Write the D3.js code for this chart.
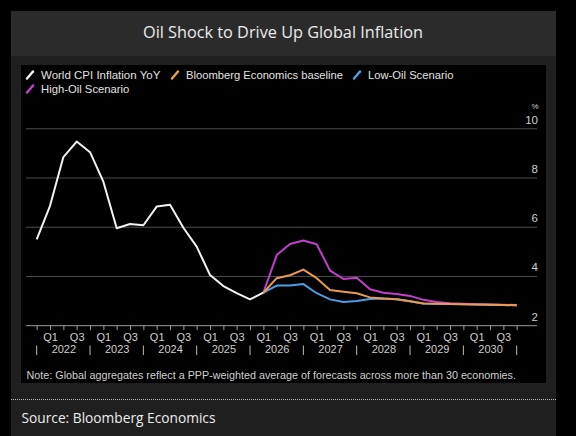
<!DOCTYPE html>
<html>
<head>
<meta charset="utf-8">
<script src="https://cdn.jsdelivr.net/npm/d3@7"></script>
<style>
  html, body { margin: 0; padding: 0; background: #000; }
  svg { display: block; }
</style>
</head>
<body>
<svg id="chart" width="576" height="436"></svg>
<script>
// ---- data (quarter index 0 = start of 2022) ----
const years = ["2022","2023","2024","2025","2026","2027","2028","2029","2030"];
const quarterLabels = ["Q1","Q3"];
const yTicks = [2, 4, 6, 8, 10];

const worldCPI = [5.49, 6.85, 8.83, 9.46, 9.03, 7.83, 5.94, 6.11, 6.06, 6.82, 6.89, 5.96, 5.19, 4.04, 3.59, 3.30, 3.05, 3.32];
const forecastStart = 17;
const highOil  = [3.32, 4.85, 5.30, 5.44, 5.29, 4.22, 3.88, 3.93, 3.46, 3.32, 3.27, 3.19, 3.03, 2.94, 2.89, 2.87, 2.85, 2.84, 2.83, 2.82];
const baseline = [3.32, 3.91, 4.03, 4.26, 3.91, 3.43, 3.36, 3.30, 3.13, 3.08, 3.05, 2.97, 2.88, 2.87, 2.86, 2.85, 2.84, 2.83, 2.82, 2.81];
const lowOil   = [3.32, 3.61, 3.61, 3.67, 3.30, 3.05, 2.94, 2.98, 3.06, 3.08, 3.05, 2.97, 2.88, 2.87, 2.86, 2.85, 2.84, 2.83, 2.82, 2.81];

const seriesNames = ["World CPI Inflation YoY", "Bloomberg Economics baseline", "Low-Oil Scenario", "High-Oil Scenario"];
const seriesColors = ["#f2f2f2", "#e89c4c", "#4a9fe6", "#c23fcc"];

const titleText = "Oil Shock to Drive Up Global Inflation";
const noteText = "Note: Global aggregates reflect a PPP-weighted average of forecasts across more than 30 economies.";
const sourceText = "Source: Bloomberg Economics";

// ---- layout ----
const svg = d3.select("#chart");
const FONT = "'Liberation Sans', Arial, sans-serif";

svg.append("rect").attr("width", 576).attr("height", 436).attr("fill", "#000");
svg.append("rect").attr("x", 11).attr("y", 11).attr("width", 545).attr("height", 425).attr("fill", "#1f1f1f");
svg.append("rect").attr("x", 11).attr("y", 11).attr("width", 545).attr("height", 45).attr("fill", "#2b2b2b");
svg.append("rect").attr("x", 21).attr("y", 65).attr("width", 525).attr("height", 318).attr("fill", "#000");

function fit(sel, w) {
  sel.each(function() {
    const len = this.getComputedTextLength();
    if (Math.abs(len - w) > 1) {
      d3.select(this).attr("textLength", w).attr("lengthAdjust", "spacingAndGlyphs");
    }
  });
}

// title
svg.append("text").attr("x", 143).attr("y", 33).attr("dy", "0.35em")
  .attr("fill", "#ececec").attr("font-family", "'Open Sans', sans-serif").attr("font-size", 15.5)
  .text(titleText).call(fit, 280);

// ---- scales ----
const x = d3.scaleLinear().domain([0, 36]).range([36.7, 516.7]);
const y = d3.scaleLinear().domain([2, 10]).range([325.2, 128.3]);

// gridlines + y labels
const yAxis = d3.axisRight(y).tickValues(yTicks).tickSize(-(537 - 26)).tickPadding(0);
const gy = svg.append("g").attr("transform", "translate(537,0)").call(yAxis);
gy.select(".domain").remove();
gy.selectAll(".tick line").attr("stroke", d => d === 2 ? "#9a9a9a" : "#4d4d4d").attr("stroke-width", 1);
gy.selectAll(".tick text").attr("x", 1).attr("dy", "-0.45em").attr("text-anchor", "end")
  .attr("fill", "#cfcfcf").attr("font-family", FONT).attr("font-size", 11.5);
svg.append("text").attr("x", 535).attr("y", 106).attr("text-anchor", "middle").attr("dy", "0.35em")
  .attr("fill", "#cfcfcf").attr("font-family", FONT).attr("font-size", 8).text("%");

// x axis: quarter ticks
const qAxis = d3.axisBottom(x).tickValues(d3.range(0, 37)).tickSize(5).tickPadding(3)
  .tickFormat(d => d % 4 === 1 ? quarterLabels[0] : (d % 4 === 3 ? quarterLabels[1] : ""));
const gx = svg.append("g").attr("transform", "translate(0,325.2)").call(qAxis);
gx.select(".domain").remove();
gx.selectAll(".tick line").attr("stroke", "#9a9a9a");
gx.selectAll(".tick text").attr("fill", "#cfcfcf").attr("font-family", FONT).attr("font-size", 11);

// year labels
const yearAxis = d3.axisBottom(x).tickValues(years.map((d, i) => i * 4 + 2)).tickSize(0).tickPadding(0)
  .tickFormat((d, i) => years[i]);
const gyear = svg.append("g").attr("transform", "translate(0,345)").call(yearAxis);
gyear.select(".domain").remove();
gyear.selectAll(".tick text").attr("fill", "#cfcfcf").attr("font-family", FONT).attr("font-size", 11);
// year separators
svg.append("g").selectAll("line").data(d3.range(0, 37, 4)).join("line")
  .attr("x1", d => x(d)).attr("x2", d => x(d)).attr("y1", 345.5).attr("y2", 355)
  .attr("stroke", "#bdbdbd").attr("stroke-width", 1);

// ---- lines ----
const line = d3.line().x(d => x(d.i)).y(d => y(d.v));
const toPts = (arr, off) => arr.map((v, k) => ({ i: k + off, v }));
const plot = [
  { data: toPts(lowOil, forecastStart), color: seriesColors[2] },
  { data: toPts(highOil, forecastStart), color: seriesColors[3] },
  { data: toPts(baseline, forecastStart), color: seriesColors[1] },
  { data: toPts(worldCPI, 0), color: seriesColors[0] }
];
svg.append("g").selectAll("path").data(plot).join("path")
  .attr("d", d => line(d.data)).attr("fill", "none")
  .attr("stroke", d => d.color).attr("stroke-width", 2).attr("stroke-linejoin", "round");

// ---- legend ----
const legendItems = [
  { name: seriesNames[0], color: seriesColors[0], x: 27, y: 75, w: 119.6 },
  { name: seriesNames[1], color: seriesColors[1], x: 172, y: 75, w: 157 },
  { name: seriesNames[2], color: seriesColors[2], x: 354, y: 75, w: 85.4 },
  { name: seriesNames[3], color: seriesColors[3], x: 27, y: 89, w: 88.4 }
];
const lg = svg.append("g").selectAll("g").data(legendItems).join("g")
  .attr("transform", d => `translate(${d.x},${d.y})`);
lg.append("line").attr("x1", 0).attr("y1", 3.5).attr("x2", 6).attr("y2", -3.5)
  .attr("stroke", d => d.color).attr("stroke-width", 2.5).attr("stroke-linecap", "round");
lg.append("text").attr("x", 14).attr("dy", "0.35em").attr("fill", "#e0e0e0")
  .attr("font-family", FONT).attr("font-size", 11.5).text(d => d.name)
  .each(function(d) { fit(d3.select(this), d.w); });

// note
svg.append("text").attr("x", 26.5).attr("y", 375).attr("dy", "0.35em")
  .attr("fill", "#cfcfcf").attr("font-family", FONT).attr("font-size", 10.5)
  .text(noteText).call(fit, 489.5);

// dotted separator
svg.append("line").attr("x1", 11).attr("x2", 556).attr("y1", 399.5).attr("y2", 399.5)
  .attr("stroke", "#bdbdbd").attr("stroke-width", 1).attr("stroke-dasharray", "1,1");

// source
svg.append("text").attr("x", 21.5).attr("y", 418).attr("dy", "0.35em")
  .attr("fill", "#ececec").attr("font-family", "'Open Sans', sans-serif").attr("font-size", 14.5)
  .text(sourceText).call(fit, 194);
</script>
</body>
</html>
